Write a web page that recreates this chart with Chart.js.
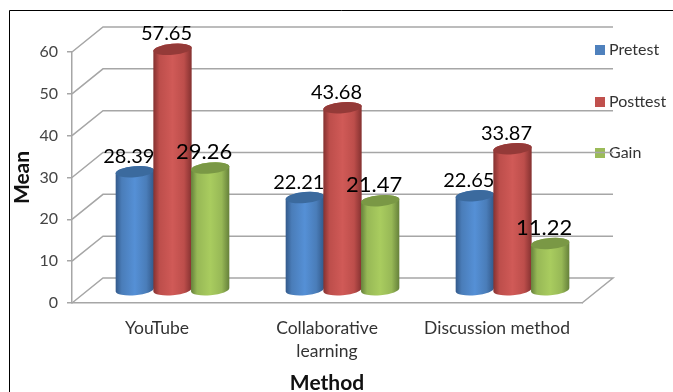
<!DOCTYPE html>
<html>
<head>
<meta charset="utf-8">
<style>
  html, body { margin: 0; padding: 0; background: #fff; }
  #wrap { width: 673px; height: 392px; position: relative; }
</style>
<script src="https://cdn.jsdelivr.net/npm/chart.js@4/dist/chart.umd.min.js"></script>
</head>
<body>
<div id="wrap"><canvas id="chart" width="673" height="392"></canvas></div>
<script>
const categories = ['YouTube', ['Collaborative', 'learning'], 'Discussion method'];
const pretest = [28.39, 22.21, 22.65];
const posttest = [57.65, 43.68, 33.87];
const gain = [29.26, 21.47, 11.22];

const FONT = 'Lato, Carlito, sans-serif';
const GRID = '#a6a6a6';

// Depth of the 3D box and of the plane the cylinders stand on.
const DEPTH = { x: 31, y: -25 };
const MID = { x: 15.5, y: -12.5 };

const shades = [
  { edge: '#33598a', mid: '#4a7db9', light: '#5590d6', cap: '#3b6a9e' },
  { edge: '#843130', mid: '#bd4e4b', light: '#d05a57', cap: '#943a38' },
  { edge: '#65803a', mid: '#97b856', light: '#a9cc5f', cap: '#7a9845' }
];
const labelSizes = [20, 20, 22];

// Walls and floor of the 3D box, driven by the y scale's ticks.
const box3d = {
  id: 'box3d',
  beforeDatasetsDraw(chart) {
    const { ctx, chartArea: a, scales: { y } } = chart;
    ctx.save();
    ctx.strokeStyle = GRID;
    ctx.lineWidth = 1.5;
    y.ticks.forEach(t => {
      const py = y.getPixelForValue(t.value);
      ctx.beginPath();
      ctx.moveTo(a.left, py);
      ctx.lineTo(a.left + DEPTH.x, py + DEPTH.y);
      ctx.lineTo(a.right + DEPTH.x, py + DEPTH.y);
      if (t.value === 0) ctx.lineTo(a.right, py);
      ctx.stroke();
    });
    ctx.restore();
  }
};

// Cylinders replace the flat bars, placed from each bar element's scale position.
const cylinders = {
  id: 'cylinders',
  beforeDatasetDraw() { return false; },
  afterDatasetsDraw(chart) {
    const { ctx } = chart;
    const tilt = -5 * Math.PI / 180;
    const ry = 5.5;
    chart.data.datasets.forEach((ds, i) => {
      const s = shades[i];
      chart.getDatasetMeta(i).data.forEach(bar => {
        const cx = bar.x + MID.x, rx = bar.width / 2;
        const top = bar.y + MID.y, bottom = bar.base + MID.y;
        const g = ctx.createLinearGradient(cx - rx, 0, cx + rx, 0);
        g.addColorStop(0, s.edge);
        g.addColorStop(0.16, s.mid);
        g.addColorStop(0.5, s.light);
        g.addColorStop(0.8, s.mid);
        g.addColorStop(1, s.edge);
        ctx.beginPath();
        ctx.ellipse(cx, bottom, rx, ry, tilt, 0, Math.PI);
        ctx.ellipse(cx, top, rx, ry, tilt, Math.PI, 2 * Math.PI);
        ctx.closePath();
        ctx.fillStyle = g;
        ctx.fill();
        ctx.beginPath();
        ctx.ellipse(cx, top, rx, ry, tilt, 0, 2 * Math.PI);
        ctx.fillStyle = s.cap;
        ctx.fill();
      });
    });
    // Value labels above each cylinder.
    ctx.save();
    ctx.fillStyle = '#000';
    ctx.textAlign = 'center';
    ctx.textBaseline = 'alphabetic';
    chart.data.datasets.forEach((ds, i) => {
      ctx.font = labelSizes[i] + 'px ' + FONT;
      chart.getDatasetMeta(i).data.forEach((bar, j) => {
        ctx.fillText(ds.data[j].toFixed(2), bar.x + MID.x - 6, bar.y + MID.y - 9);
      });
    });
    ctx.restore();
  }
};

// Series key at the right with wide row spacing, and the frame's top and left rules.
const sideKey = {
  id: 'sideKey',
  beforeDatasetsDraw(chart) {
    const { ctx } = chart;
    ctx.save();
    ctx.strokeStyle = '#000';
    ctx.lineWidth = 1;
    ctx.beginPath();
    ctx.moveTo(9.5, 392);
    ctx.lineTo(9.5, 10.5);
    ctx.lineTo(673, 10.5);
    ctx.stroke();
    ctx.font = '16px ' + FONT;
    ctx.textBaseline = 'middle';
    const rows = [50, 102, 153];
    chart.data.datasets.forEach((ds, i) => {
      ctx.fillStyle = ds.backgroundColor;
      ctx.fillRect(595, rows[i] - 5, 10, 10);
      ctx.fillStyle = '#333';
      ctx.fillText(ds.label, 609, rows[i]);
    });
    ctx.restore();
  }
};

new Chart(document.getElementById('chart'), {
  type: 'bar',
  data: {
    labels: categories,
    datasets: [
      { label: 'Pretest', data: pretest, backgroundColor: '#4f81bd' },
      { label: 'Posttest', data: posttest, backgroundColor: '#c0504d' },
      { label: 'Gain', data: gain, backgroundColor: '#9bbb59' }
    ]
  },
  plugins: [sideKey, box3d, cylinders],
  options: {
    responsive: false,
    animation: false,
    devicePixelRatio: 1,
    categoryPercentage: 0.665,
    barPercentage: 1.02,
    layout: { padding: { left: 0, right: 91, top: 52, bottom: 0 } },
    plugins: { legend: { display: false }, tooltip: { enabled: false } },
    scales: {
      x: {
        afterFit(s) { s.height = 89; },
        grid: { display: false, drawTicks: false },
        border: { display: true, color: GRID, width: 1.5 },
        ticks: {
          padding: 13,
          color: '#333',
          maxRotation: 0,
          autoSkip: false,
          font: { family: FONT, size: 17.5, lineHeight: 1.36 }
        },
        title: {
          display: true,
          text: 'Method',
          color: '#111',
          align: 'center',
          font: { family: FONT, size: 21, weight: 'bold' },
          padding: { top: 0, bottom: -4 }
        }
      },
      y: {
        min: 0,
        max: 60,
        afterFit(s) { s.width = 72; },
        grid: { color: GRID, lineWidth: 1.5, drawOnChartArea: false, tickLength: 5 },
        border: { display: true, color: GRID, width: 1.5 },
        ticks: {
          stepSize: 10,
          padding: 9,
          color: '#444',
          font: { family: FONT, size: 16 }
        },
        title: {
          display: true,
          text: 'Mean',
          color: '#111',
          font: { family: FONT, size: 21, weight: 'bold' },
          padding: { top: 10, bottom: 0 }
        }
      }
    }
  }
});
</script>
</body>
</html>
